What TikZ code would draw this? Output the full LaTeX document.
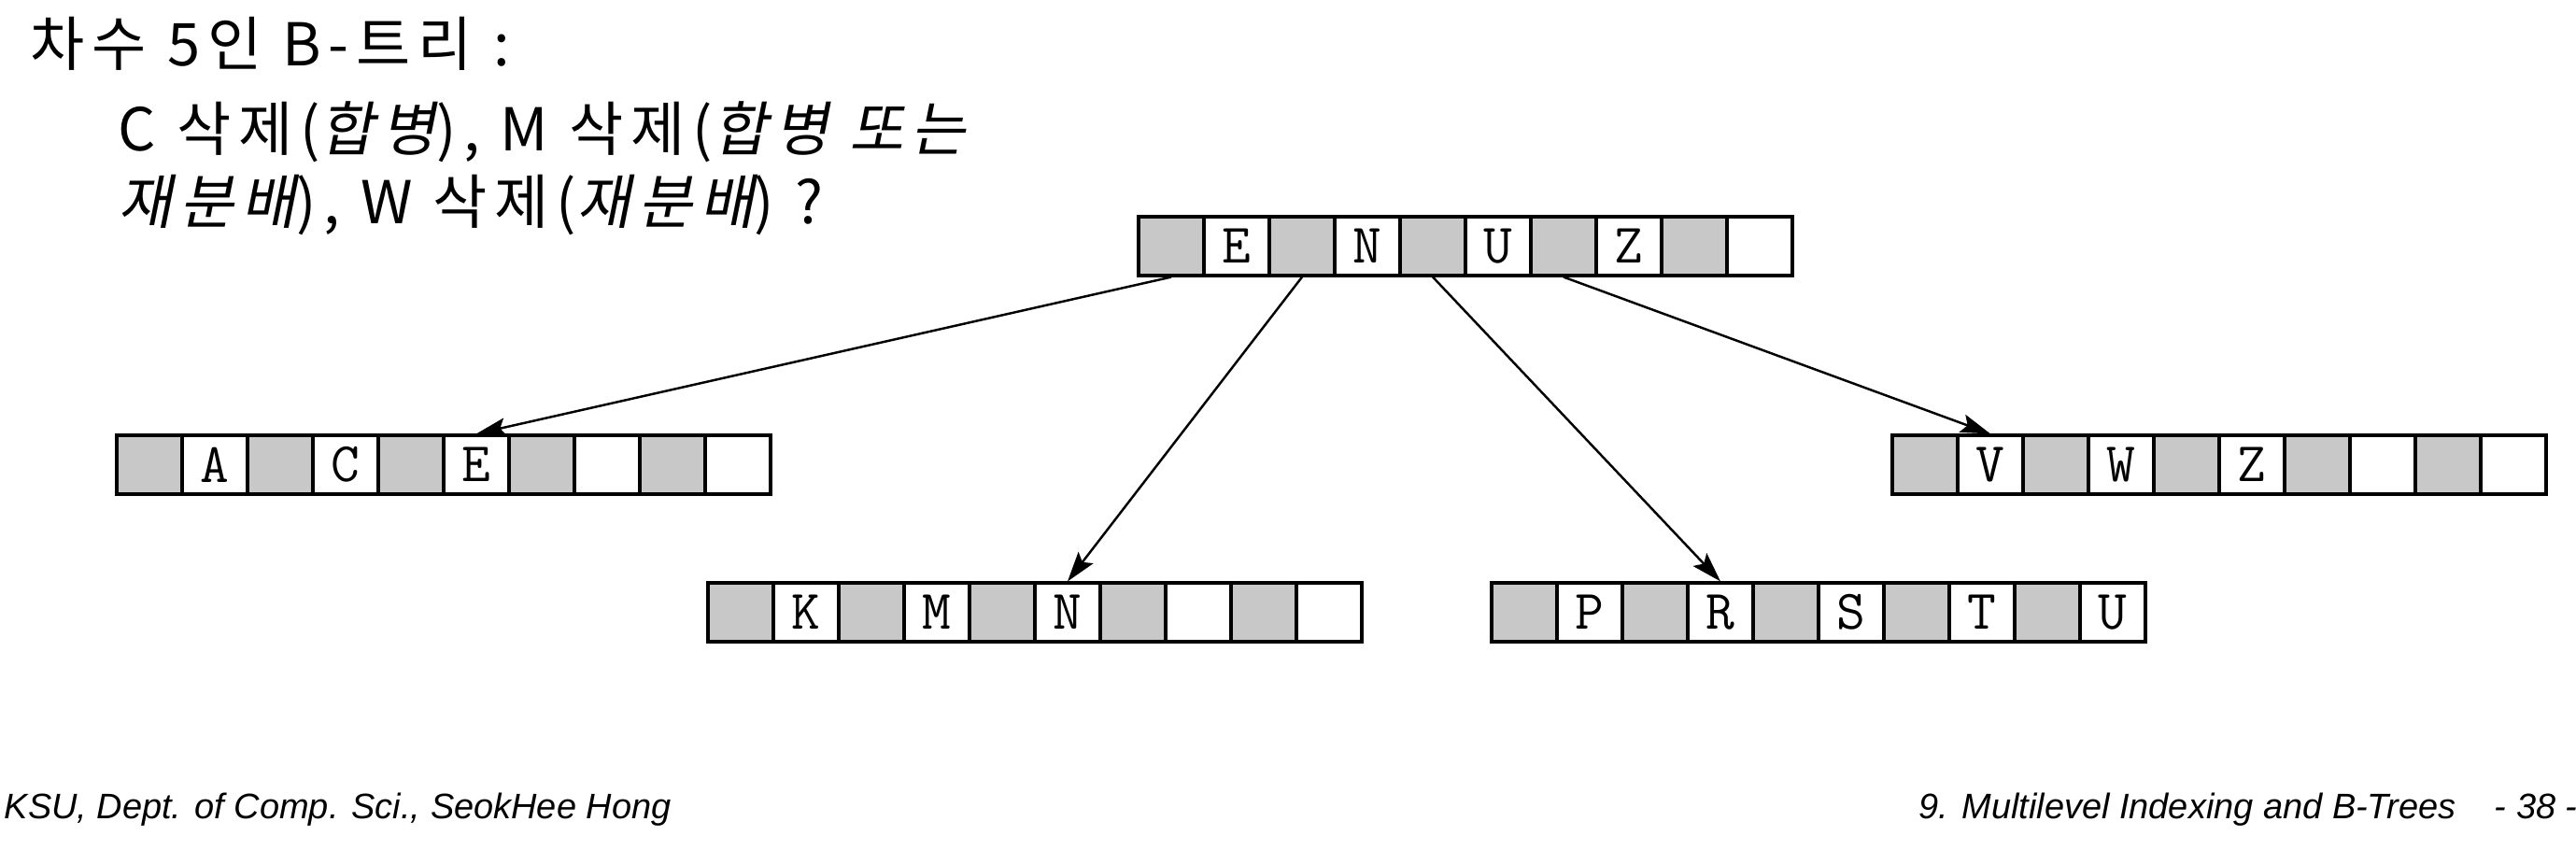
\documentclass[tikz,border=0pt]{standalone}
\usepackage{fontspec}
\setmainfont{Noto Sans CJK KR}[LetterSpace=12.5]
\newfontfamily\krslant{Noto Sans CJK KR}[FakeSlant=0.2, LetterSpace=12.5]
\newfontfamily\footfont{Liberation Sans}
\usetikzlibrary{arrows.meta}
\definecolor{cellgray}{RGB}{200,200,200}
\tikzset{
  cellbox/.style={draw, line width=0.9pt, minimum width=0.7cm, minimum height=0.63cm, inner sep=0pt},
  ptrcell/.style={cellbox, fill=cellgray},
  keycell/.style={cellbox, fill=white, font=\ttfamily\fontsize{17}{17}\selectfont},
  txt/.style={anchor=west, inner sep=0pt, font=\fontsize{18}{22}\selectfont},
  foot/.style={anchor=west, inner sep=0pt, font=\footfont\itshape\fontsize{10.8}{12}\selectfont},
  ptr/.style={-{Stealth[length=0.32cm, width=0.2cm, inset=0.06cm]}, line width=0.7pt}
}
% one B-tree node: name, left x, centre y, keys
\newcommand{\btnode}[4]{%
  \foreach \k [count=\i] in {#4} {
    \node[ptrcell] (#1-p\i) at ({#2+(2*\i-1.5)*0.7}, #3) {};
    \node[keycell] (#1-k\i) at ({#2+(2*\i-0.5)*0.7}, #3) {\k};
  }%
}
\begin{document}
\begin{tikzpicture}
    \useasboundingbox (0,0) rectangle (27.58,-9.10);

    % Testo
    \node[txt] (title) at (0.32,-0.47) {차수 5인 B-트리 :};
    \node[txt] (line1) at (1.26,-1.41) {C 삭제({\krslant 합병}), M 삭제({\krslant 합병 또는}};
    \node[txt] (line2) at (1.26,-2.20) {{\krslant 재분배}), W 삭제({\krslant 재분배}) ?};

    % Nodi
    \btnode{root}{12.19}{-2.635}{E,N,U,Z,{}}
    \btnode{ace}{1.25}{-4.975}{A,C,E,{},{}}
    \btnode{vwz}{20.26}{-4.975}{V,W,Z,{},{}}
    \btnode{kmn}{7.58}{-6.555}{K,M,N,{},{}}
    \btnode{prs}{15.97}{-6.555}{P,R,S,T,U}

    % Puntatori
    \draw[ptr] (root-p1.south) -- (ace-k3.north);
    \draw[ptr] (root-p2.south) -- (kmn-k3.north);
    \draw[ptr] (root-p3.south) -- (prs-k2.north);
    \draw[ptr] (root-p4.south) -- (vwz-k1.north);

    % Pie di pagina
    \node[foot] (foot-l) at (0.04,-8.67) {KSU, Dept. of Comp. Sci., SeokHee Hong};
    \node[foot] (foot-r) at (20.54,-8.67) {9. Multilevel Indexing and B-Trees\hspace{1.1em}- 38 -};
\end{tikzpicture}
\end{document}
